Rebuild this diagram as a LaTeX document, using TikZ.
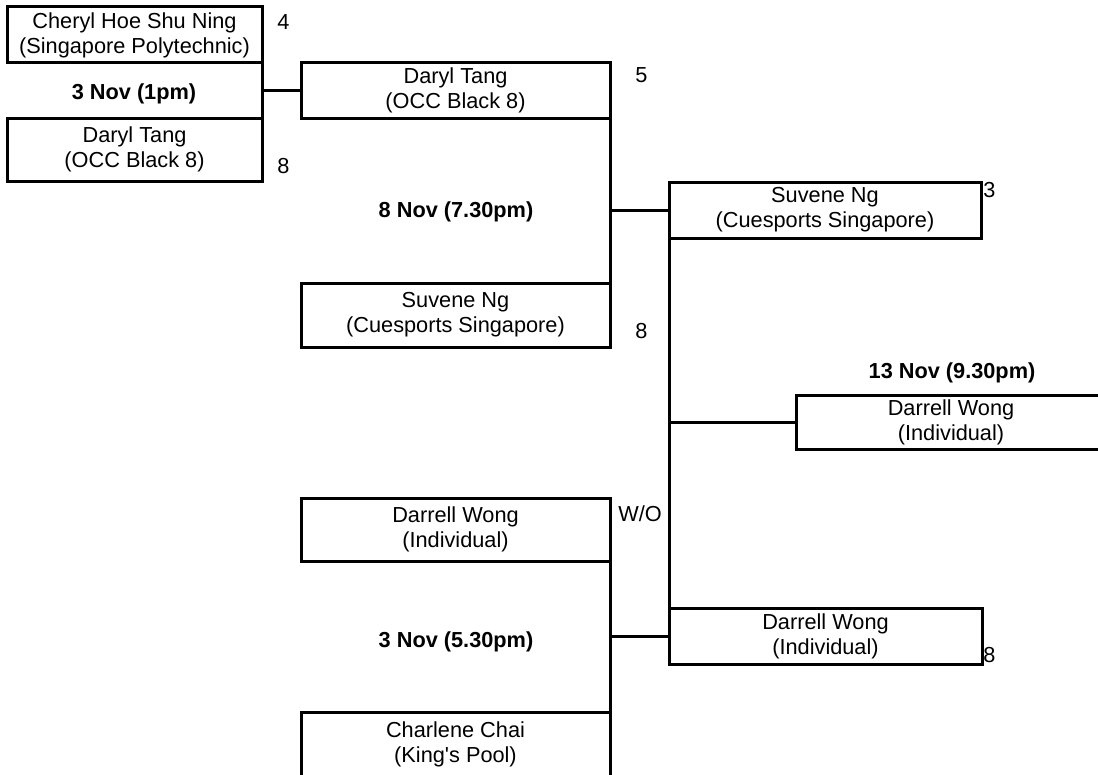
\documentclass[tikz,border=0pt]{standalone}
\usepackage{fontspec}
\newfontfamily\arialfont{Liberation Sans}
\usetikzlibrary{calc}

\begin{document}
\begin{tikzpicture}[
    x=0.75pt, y=-0.75pt,
    font=\arialfont\fontsize{16.3}{18.8}\selectfont,
    player/.style={rectangle, draw, line width=2.25pt, outer sep=0pt, inner sep=0pt, align=center, minimum width=231.75pt, minimum height=42pt},
    tall/.style={minimum height=47.25pt},
    link/.style={line width=2.25pt},
    score/.style={anchor=base west, inner sep=0pt},
    date/.style={anchor=base, inner sep=0pt, font=\arialfont\fontsize{16.3}{18.8}\selectfont\bfseries},
]

\useasboundingbox (0,0) rectangle (1098,774);
\clip (0,0) rectangle (1098,774);

% Round 1
\node[player, minimum width=191.25pt] (cheryl) at (134.5,35) {Cheryl Hoe Shu Ning\\(Singapore Polytechnic)};
\node[player, tall, minimum width=191.25pt] (daryla) at (134.5,149.5) {Daryl Tang\\(OCC Black 8)};
\node[date] (datea) at (134,99) {3 Nov (1pm)};
\node[score] (sca) at (277,30) {4};
\node[score] (scb) at (277,173) {8};

\node[player, tall] (wonga) at (455.5,529.5) {Darrell Wong\\(Individual)};
\node[player, minimum height=48pt] (chai) at (455.5,744) {Charlene Chai\\(King's Pool)};
\node[date] (dateb) at (456,647) {3 Nov (5.30pm)};
\node[score] (scc) at (618,521) {W/O};

% Semi final
\node[player, minimum height=41.25pt] (darylb) at (455.5,90.5) {Daryl Tang\\(OCC Black 8)};
\node[player, minimum height=48pt] (suvenea) at (455.5,315) {Suvene Ng\\(Cuesports Singapore)};
\node[date] (datec) at (456,217) {8 Nov (7.30pm)};
\node[score] (scd) at (635,82) {5};
\node[score] (sce) at (635,338) {8};

% Final
\node[player, minimum width=234pt] (suveneb) at (825,210) {Suvene Ng\\(Cuesports Singapore)};
\node[player, minimum width=234.75pt] (wongb) at (825.5,636) {Darrell Wong\\(Individual)};
\node[score] (scf) at (983,197) {3};
\node[score] (scg) at (983,662) {8};

% Winner
\node[player, minimum width=232.5pt, minimum height=40.5pt] (champ) at (951,422) {Darrell Wong\\(Individual)};
\node[date] (dated) at (952,378) {13 Nov (9.30pm)};

% Brackets
\draw[link] (cheryl.south east) -- (daryla.north east);
\draw[link] (darylb.west) -- (darylb.west -| cheryl.east);

\draw[link] (wonga.south east) -- (chai.north east);
\draw[link] (wongb.west) -- (wongb.west -| wonga.east);

\draw[link] (darylb.south east) -- (suvenea.north east);
\draw[link] (suveneb.west) -- (suveneb.west -| darylb.east);

\draw[link] (suveneb.south west) -- (wongb.north west);
\draw[link] (champ.west) -- (champ.west -| suveneb.west);

\end{tikzpicture}
\end{document}
